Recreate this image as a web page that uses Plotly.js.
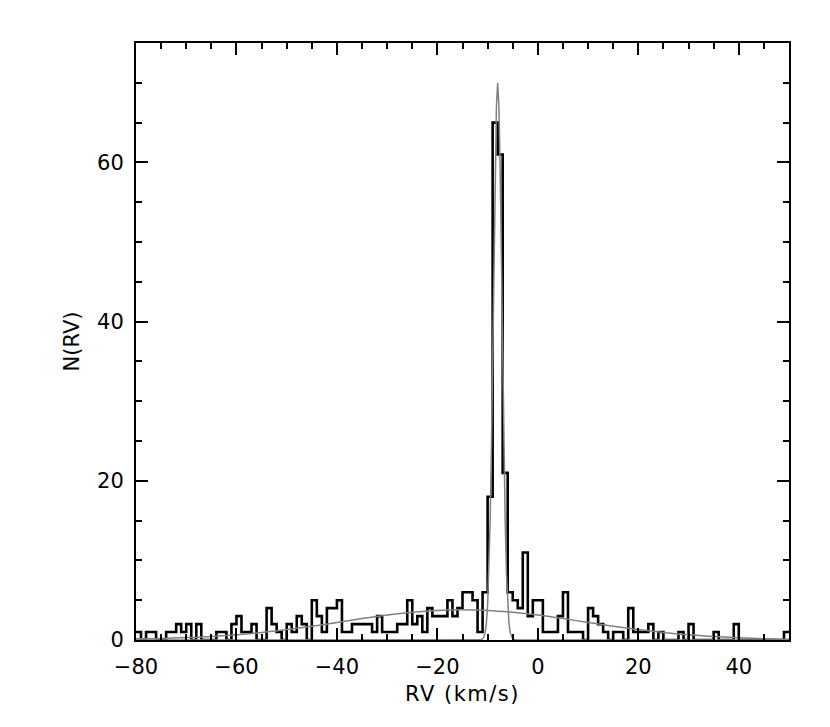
<!DOCTYPE html>
<html>
<head>
<meta charset="utf-8">
<script src="https://cdn.plot.ly/plotly-3.0.1.min.js"></script>
<style>
  html, body { margin: 0; padding: 0; background: #fff; }
  #chart { width: 830px; height: 727px; }
  .g-xtitle text { letter-spacing: 1.5px; }
</style>
</head>
<body>
<div id="chart"></div>
<script>
// Histogram of radial velocities: bins of 1 km/s starting at -80
const binStart = -80;
const binWidth = 1;
const counts = [
  1, 0, 1, 1, 0, 0, 1, 1, 2, 1,      // -80 .. -71
  2, 0, 2, 0, 0, 0, 1, 1, 0, 2,      // -70 .. -61
  3, 1, 1, 2, 0, 0, 4, 2, 1, 0,      // -60 .. -51
  2, 1, 3, 2, 0, 5, 3, 1, 4, 4,      // -50 .. -41
  5, 1, 1, 2, 2, 2, 2, 1, 3, 1,      // -40 .. -31
  1, 1, 2, 2, 5, 2, 3, 1, 4, 3,      // -30 .. -21
  3, 3, 5, 3, 4, 6, 6, 5, 1, 6,      // -20 .. -11
  18, 65, 61, 21, 6, 5, 4, 11, 3, 5, // -10 .. -1
  5, 1, 1, 1, 3, 6, 1, 1, 1, 0,      // 0 .. 9
  4, 3, 2, 1, 0, 1, 1, 0, 4, 1,      // 10 .. 19
  1, 1, 2, 0, 1, 0, 0, 0, 1, 0,      // 20 .. 29
  2, 0, 0, 0, 0, 1, 0, 0, 0, 2,      // 30 .. 39
  0, 0, 0, 0, 0, 0, 0, 0, 0, 1       // 40 .. 49
];

// Narrow fitted component (grey)
const narrowX = [-80, -12, -11.5, -11, -10.75, -10.5, -10.25, -10, -9.75, -9.5, -9.25, -9,
  -8.75, -8.5, -8.25, -8, -7.75, -7.5, -7.25, -7, -6.75, -6.5, -6.25, -6, -5.75, -5.5,
  -5.25, -5, -4.5, -4, 50];
const narrowY = [0, 0, 0.02, 0.14, 0.37, 0.92, 2.1, 4.4, 8.4, 14.8, 23.7, 35,
  47.4, 58.9, 67, 70, 67, 58.9, 47.4, 35, 23.7, 14.8, 8.4, 4.4, 2.1, 0.92,
  0.37, 0.14, 0.02, 0, 0];

// Broad fitted component (grey)
const broadX = [-80, -75, -70, -65, -60, -55, -50, -45, -40, -35, -30, -25, -20, -15,
  -10, -5, 0, 5, 10, 15, 20, 25, 30, 35, 40, 45, 50];
const broadY = [0.15, 0.2, 0.3, 0.43, 0.66, 0.95, 1.31, 1.72, 2.2, 2.69, 3.13, 3.48, 3.72, 3.8,
  3.72, 3.48, 3.13, 2.69, 2.21, 1.74, 1.31, 0.95, 0.66, 0.43, 0.28, 0.17, 0.1];

// step outline built from bin edges
const edgesX = [];
const stepY = [];
for (let i = 0; i <= counts.length; i++) {
  edgesX.push(binStart + i * binWidth);
  stepY.push(counts[Math.min(i, counts.length - 1)]);
}

const grey = '#808080';
const traces = [
  { x: edgesX, y: stepY, type: 'scatter', mode: 'lines',
    line: { shape: 'hv', color: '#000', width: 2.6 }, hoverinfo: 'skip' },
  { x: broadX, y: broadY, type: 'scatter', mode: 'lines',
    line: { shape: 'spline', color: grey, width: 1.5 }, hoverinfo: 'skip' },
  { x: narrowX, y: narrowY, type: 'scatter', mode: 'lines',
    line: { shape: 'linear', color: grey, width: 1.5 }, hoverinfo: 'skip' }
];

const fontFam = '"DejaVu Sans", "Liberation Sans", sans-serif';
const axisCommon = {
  showgrid: false, zeroline: false,
  showline: true, linecolor: '#000', linewidth: 2,
  mirror: 'ticks', ticks: 'inside', ticklen: 12, tickwidth: 2, tickcolor: '#000',
  tickfont: { family: fontFam, size: 21, color: '#000' },
  minor: { ticks: 'inside', ticklen: 6, tickwidth: 2, tickcolor: '#000', dtick: 5, showgrid: false }
};

const layout = {
  width: 830, height: 727,
  margin: { l: 136, r: 41, t: 43, b: 87 },
  paper_bgcolor: '#fff', plot_bgcolor: '#fff',
  showlegend: false,
  xaxis: Object.assign({}, axisCommon, {
    range: [-80, 50], dtick: 20, tick0: 0,
    ticklabelstandoff: 7,
    title: { text: 'RV (km/s)', font: { family: fontFam, size: 21, color: '#000' }, standoff: 8 }
  }),
  yaxis: Object.assign({}, axisCommon, {
    range: [0, 75], dtick: 20, tick0: 0,
    ticklabelstandoff: 6,
    title: { text: 'N(RV)', font: { family: fontFam, size: 21, color: '#000' }, standoff: 12 }
  })
};

Plotly.newPlot('chart', traces, layout, { displayModeBar: false, staticPlot: true });
</script>
</body>
</html>
